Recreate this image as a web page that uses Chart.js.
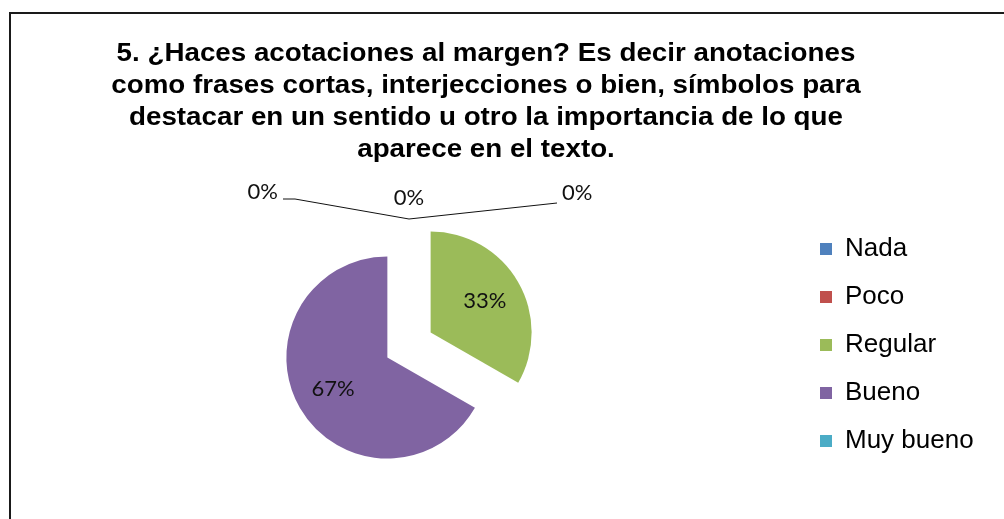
<!DOCTYPE html>
<html lang="es">
<head>
    <meta charset="UTF-8">
    <title>5. ¿Haces acotaciones al margen?</title>
    <script src="https://cdn.jsdelivr.net/npm/chart.js"></script>
    <style>
        html, body {
            margin: 0;
            padding: 0;
            background: #fff;
            overflow: hidden;
        }
        canvas {
            display: block;
        }
    </style>
</head>
<body>
    <canvas id="pieChart" width="1004" height="519"></canvas>
    <script>
        // Chart data
        const TITLE_LINES = [
            '5. ¿Haces acotaciones al margen? Es decir anotaciones',
            'como frases cortas, interjecciones o bien, símbolos para',
            'destacar en un sentido u otro la importancia de lo que',
            'aparece en el texto.'
        ];
        const CATEGORIES = ['Nada', 'Poco', 'Regular', 'Bueno', 'Muy bueno'];
        const PERCENTS = [0, 0, 33.3, 66.7, 0];
        const COLORS = ['#4F81BD', '#C0504D', '#9BBB59', '#8064A2', '#4BACC6'];

        const EXPLODE = 25;       // px each slice is pulled out
        const LEGEND_FONT = 26;
        const LEGEND_PAD = 22;
        const LEGEND_BOX = 12;

        // room on the right so the legend lands where the original has it
        const measureCtx = document.createElement('canvas').getContext('2d');
        measureCtx.font = LEGEND_FONT + 'px "Liberation Sans"';
        const widestLabel = Math.max(...CATEGORIES.map(c => measureCtx.measureText(c).width));
        const legendWidth = LEGEND_PAD + LEGEND_BOX + LEGEND_FONT / 2 + widestLabel + 10;
        const legendLeft = 798;
        const rightPad = Math.max(0, 1004 - legendLeft - legendWidth);

        // outer frame + title
        const frameAndTitle = {
            id: 'frameAndTitle',
            beforeDraw(chart) {
                const ctx = chart.ctx;
                ctx.save();
                ctx.strokeStyle = '#1a1a1a';
                ctx.lineWidth = 2;
                ctx.strokeRect(10, 13, 1100, 600);
                ctx.fillStyle = '#000';
                ctx.font = 'bold 25px "Liberation Sans", Arial, sans-serif';
                ctx.textAlign = 'center';
                ctx.textBaseline = 'alphabetic';
                TITLE_LINES.forEach((line, i) => {
                    ctx.save();
                    ctx.translate(486, 61 + i * 32);
                    ctx.scale(1.11, 1);
                    ctx.fillText(line, 0, 0);
                    ctx.restore();
                });
                ctx.restore();
            }
        };

        // pull every slice out along its middle angle (like an exploded Excel pie)
        const explodeSlices = {
            id: 'explodeSlices',
            afterDatasetUpdate(chart, args) {
                args.meta.data.forEach(arc => {
                    const mid = (arc.startAngle + arc.endAngle) / 2;
                    arc.x += Math.cos(mid) * EXPLODE;
                    arc.y += Math.sin(mid) * EXPLODE;
                });
            }
        };

        // percentage labels, with leader lines for the empty slices
        const sliceLabels = {
            id: 'sliceLabels',
            afterDatasetsDraw(chart) {
                const ctx = chart.ctx;
                const meta = chart.getDatasetMeta(0);
                ctx.save();
                ctx.font = '22px Lato, "Open Sans", sans-serif';
                ctx.fillStyle = '#111';
                ctx.strokeStyle = '#111';
                ctx.lineWidth = 1;
                ctx.textBaseline = 'middle';
                let zeroCount = 0;
                meta.data.forEach((arc, i) => {
                    const mid = (arc.startAngle + arc.endAngle) / 2;
                    const dx = Math.cos(mid), dy = Math.sin(mid);
                    const r = arc.outerRadius;
                    const text = Math.round(PERCENTS[i]) + '%';
                    if (PERCENTS[i] > 0) {
                        ctx.textAlign = 'center';
                        ctx.fillText(text, arc.x + dx * r * 0.62, arc.y + dy * r * 0.62);
                        return;
                    }
                    const tx = arc.x + dx * r;
                    const ty = arc.y + dy * r;
                    if (zeroCount === 0) {
                        ctx.beginPath();
                        ctx.moveTo(tx, ty);
                        ctx.lineTo(tx - 114, ty - 20);
                        ctx.lineTo(tx - 126, ty - 20);
                        ctx.stroke();
                        ctx.textAlign = 'right';
                        ctx.fillText(text, tx - 131, ty - 27);
                    } else if (zeroCount === 1) {
                        ctx.textAlign = 'center';
                        ctx.fillText(text, tx, ty - 21);
                    } else {
                        ctx.beginPath();
                        ctx.moveTo(tx, ty);
                        ctx.lineTo(tx + 148, ty - 16);
                        ctx.stroke();
                        ctx.textAlign = 'left';
                        ctx.fillText(text, tx + 153, ty - 26);
                    }
                    zeroCount++;
                });
                ctx.restore();
            }
        };

        new Chart(document.getElementById('pieChart'), {
            type: 'pie',
            data: {
                labels: CATEGORIES,
                datasets: [{
                    data: PERCENTS,
                    backgroundColor: COLORS,
                    borderWidth: 0,
                    radius: 101
                }]
            },
            options: {
                responsive: false,
                animation: false,
                layout: {
                    padding: { top: 190, bottom: 19, left: 20, right: rightPad }
                },
                plugins: {
                    title: { display: false },
                    tooltip: { enabled: false },
                    legend: {
                        position: 'right',
                        labels: {
                            boxWidth: LEGEND_BOX,
                            boxHeight: LEGEND_BOX,
                            padding: LEGEND_PAD,
                            color: '#000',
                            font: { family: '"Liberation Sans", Arial, sans-serif', size: LEGEND_FONT }
                        }
                    }
                }
            },
            plugins: [frameAndTitle, explodeSlices, sliceLabels]
        });
    </script>
</body>
</html>
